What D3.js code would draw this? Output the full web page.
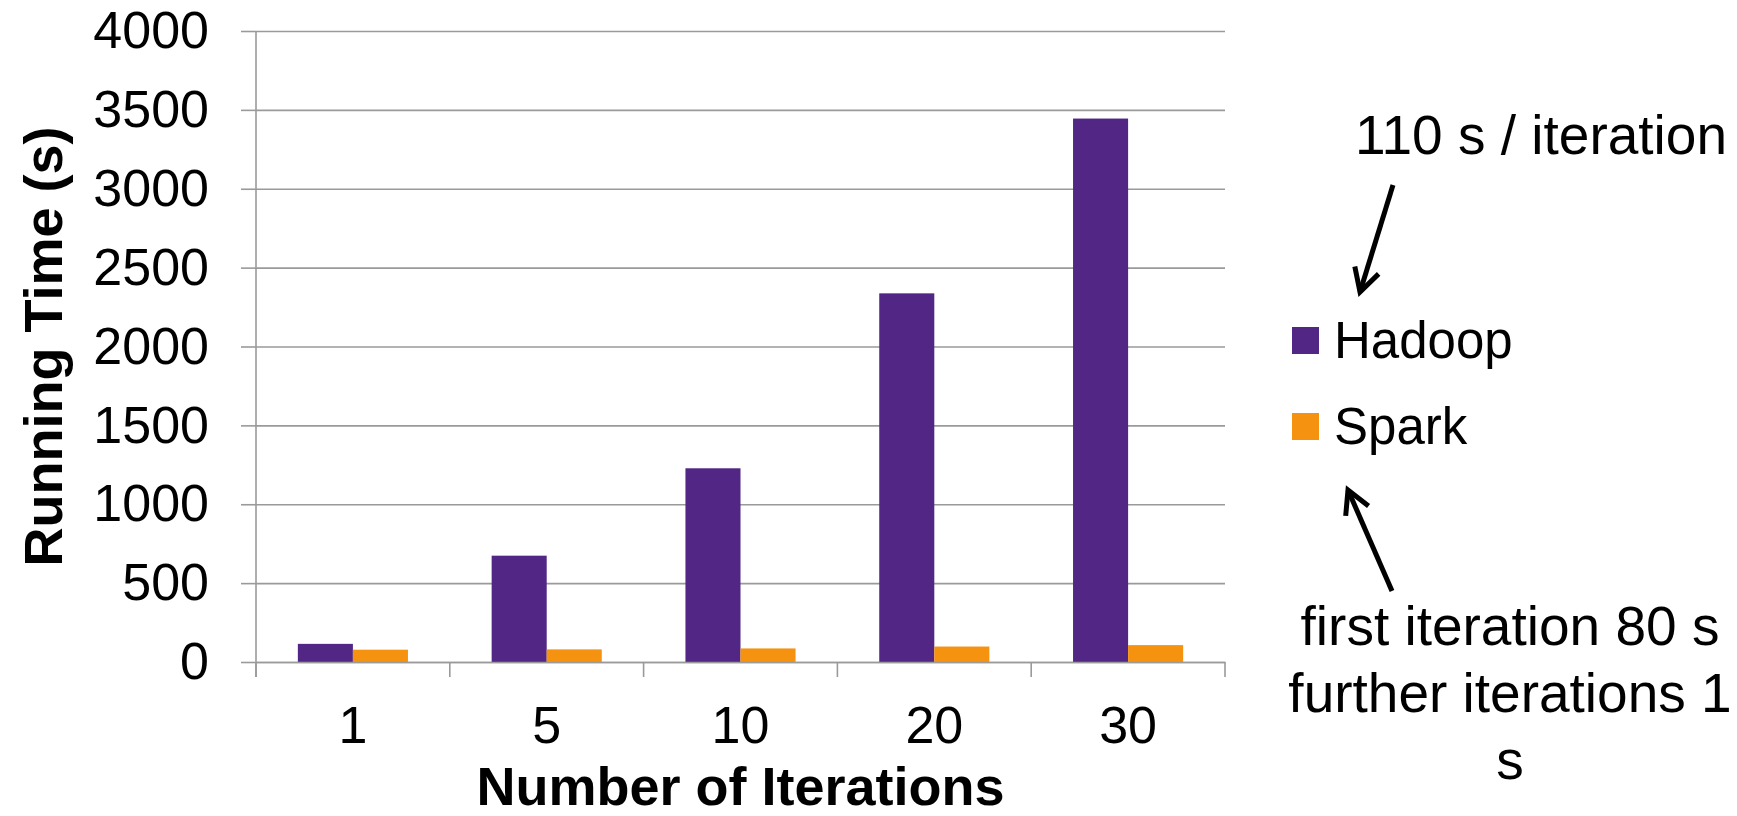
<!DOCTYPE html>
<meta charset="utf-8">
<style>
  body { margin: 0; background: #fff; }
  text { font-family: "Liberation Sans", Arial, sans-serif; fill: #000; }
  .grid line { stroke: #9a9a9a; stroke-width: 1.6; }
  .grid .domain { stroke: none; }
  .axis .domain, .axis line { stroke: #9a9a9a; stroke-width: 1.6; }
</style>
<body>
<script src="https://cdn.jsdelivr.net/npm/d3@7"></script>
<script>
  var categories = ["1", "5", "10", "20", "30"];
  var seriesNames = ["Hadoop", "Spark"];
  var hadoop = [115, 674, 1228, 2337, 3445];
  var spark = [78, 80, 86, 98, 107];
  var yTicks = [0, 500, 1000, 1500, 2000, 2500, 3000, 3500, 4000];
  var colors = ["#522684", "#f5920f"];

  var W = 1737, H = 816;
  // plot box (avoid "top" - it is a read-only window property)
  var plotL = 256, plotR = 1225, plotT = 31, plotB = 662;

  var svg = d3.select("body").append("svg")
    .attr("width", W)
    .attr("height", H);

  var y = d3.scaleLinear()
    .domain([0, 4000])
    .range([plotB, plotT]);

  var x0 = d3.scaleBand()
    .domain(categories)
    .range([plotL, plotR]);

  var x1 = d3.scaleBand()
    .domain(seriesNames)
    .range([0, x0.bandwidth()])
    .paddingOuter(0.76);

  // gridlines
  svg.append("g")
    .attr("class", "grid")
    .attr("transform", "translate(" + plotL + ",0)")
    .call(d3.axisLeft(y).tickValues(yTicks).tickSize(-(plotR - plotL)).tickFormat(""));

  // y axis with ticks + labels
  var yAxis = svg.append("g")
    .attr("class", "axis")
    .attr("transform", "translate(" + plotL + ",0)")
    .call(d3.axisLeft(y).tickValues(yTicks).tickFormat(d3.format("d"))
      .tickSize(15).tickSizeOuter(0).tickPadding(32));
  yAxis.select(".domain").remove();
  yAxis.append("line")
    .attr("x1", 0).attr("x2", 0)
    .attr("y1", plotT).attr("y2", plotB + 15);
  yAxis.selectAll("text").style("font-size", "52px");

  // bars
  var data = [hadoop, spark];
  svg.append("g").selectAll("g")
    .data(data)
    .enter().append("g")
    .attr("fill", function (d, i) { return colors[i]; })
    .attr("transform", function (d, i) { return "translate(" + x1(seriesNames[i]) + ",0)"; })
    .selectAll("rect")
    .data(function (d) { return d; })
    .enter().append("rect")
    .attr("x", function (d, i) { return x0(categories[i]); })
    .attr("width", x1.bandwidth())
    .attr("y", function (d) { return y(d); })
    .attr("height", function (d) { return y(0) - y(d); });

  // x axis
  var xAxis = svg.append("g")
    .attr("class", "axis")
    .attr("transform", "translate(0," + plotB + ")")
    .call(d3.axisBottom(x0).tickSize(0).tickSizeOuter(0).tickPadding(44));
  xAxis.selectAll("text").style("font-size", "52px");
  var edges = categories.map(function (c) { return x0(c); }).concat([plotR]);
  xAxis.selectAll(".edge")
    .data(edges)
    .enter().append("line")
    .attr("class", "edge")
    .attr("x1", function (d) { return d; })
    .attr("x2", function (d) { return d; })
    .attr("y1", 0).attr("y2", 15);

  // axis titles
  svg.append("text")
    .attr("x", (plotL + plotR) / 2)
    .attr("y", 805)
    .attr("text-anchor", "middle")
    .style("font-size", "54px")
    .style("font-weight", "bold")
    .text("Number of Iterations");

  svg.append("text")
    .attr("transform", "translate(62," + (plotT + plotB) / 2 + ") rotate(-90)")
    .attr("text-anchor", "middle")
    .style("font-size", "54px")
    .style("font-weight", "bold")
    .text("Running Time (s)");

  // legend
  var legend = svg.append("g").selectAll("g")
    .data(seriesNames)
    .enter().append("g")
    .attr("transform", function (d, i) { return "translate(1292," + (327 + i * 86) + ")"; });
  legend.append("rect")
    .attr("width", 27).attr("height", 27)
    .attr("fill", function (d, i) { return colors[i]; });
  legend.append("text")
    .attr("x", 42).attr("y", 31)
    .style("font-size", "51px")
    .text(function (d) { return d; });

  // annotations
  svg.append("text")
    .attr("x", 1541).attr("y", 154)
    .attr("text-anchor", "middle")
    .style("font-size", "55px")
    .text("110 s / iteration");

  var notes = ["first iteration 80 s", "further iterations 1", "s"];
  svg.append("g").selectAll("text")
    .data(notes)
    .enter().append("text")
    .attr("x", 1510)
    .attr("y", function (d, i) { return 645 + i * 67; })
    .attr("text-anchor", "middle")
    .style("font-size", "55px")
    .text(function (d) { return d; });

  function arrow(xa, ya, xb, yb) {
    var g = svg.append("g").attr("stroke", "#000").attr("stroke-width", 5).attr("fill", "none");
    g.append("line").attr("x1", xa).attr("y1", ya).attr("x2", xb).attr("y2", yb);
    var a = Math.atan2(yb - ya, xb - xa), L = 26, s = 0.5;
    g.append("path")
      .attr("d", "M" + (xb - L * Math.cos(a - s)) + "," + (yb - L * Math.sin(a - s)) +
        "L" + xb + "," + yb +
        "L" + (xb - L * Math.cos(a + s)) + "," + (yb - L * Math.sin(a + s)));
  }
  arrow(1393, 185, 1360, 292);
  arrow(1392, 591, 1348, 490);
</script>
</body>
